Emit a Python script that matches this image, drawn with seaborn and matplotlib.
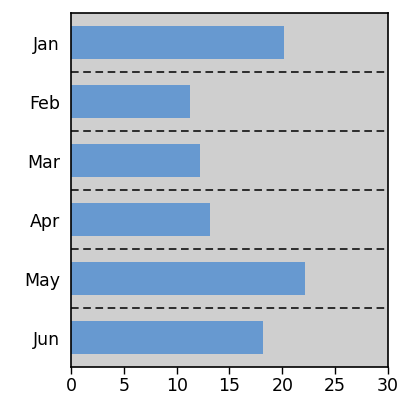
import matplotlib
matplotlib.use("Agg")
import matplotlib.pyplot as plt
import seaborn as sns
import pandas as pd

# Daten
months = ["Jan", "Feb", "Mar", "Apr", "May", "Jun"]
values = [20.2, 11.3, 12.2, 13.2, 22.1, 18.2]
x_ticks = [0, 5, 10, 15, 20, 25, 30]

def create_bar_plot():
    df = pd.DataFrame({"month": months, "value": values})

    sns.set_style("white")
    plt.rcParams['font.family'] = ['DejaVu Sans']

    fig = plt.figure(figsize=(4.04, 3.99), dpi=100)
    ax = fig.add_axes([0.1757, 0.0802, 0.7847, 0.8872])
    ax.set_facecolor("#cfcfcf")

    sns.barplot(data=df, x="value", y="month", orient="h", color="#6799d0",
                saturation=1, width=0.57, linewidth=0, ax=ax)

    # gestrichelte Trennlinien zwischen den Monaten
    for i in range(len(months) - 1):
        ax.axhline(i + 0.5, color="black", linestyle=(0, (5, 3)), linewidth=1.1)

    ax.set_xlim(0, 30)
    ax.set_ylim(len(months) - 0.5, -0.5)
    ax.set_xticks(x_ticks)
    ax.set_xlabel("")
    ax.set_ylabel("")

    ax.tick_params(axis="x", direction="out", length=5, width=1, pad=2,
                   labelsize=12.5, bottom=True, colors="black")
    ax.tick_params(axis="y", length=0, pad=8, labelsize=12.5, colors="black")

    for spine in ax.spines.values():
        spine.set_visible(True)
        spine.set_color("black")
        spine.set_linewidth(1.2)

    fig.savefig("out.png", dpi=100)
    plt.close(fig)

if __name__ == "__main__":
    create_bar_plot()
